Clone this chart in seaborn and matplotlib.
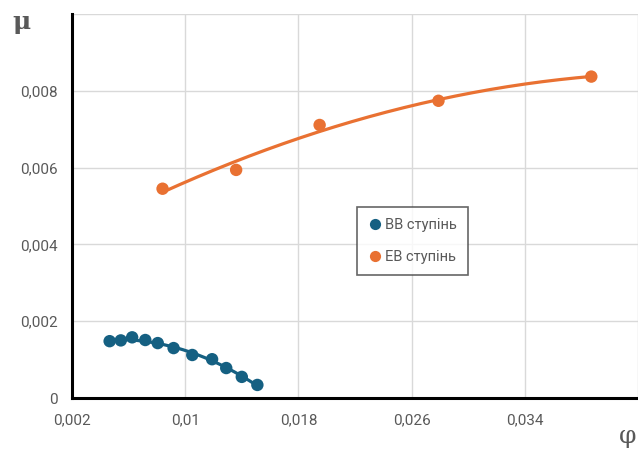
import numpy as np
import pandas as pd
import matplotlib
matplotlib.use("Agg")
import matplotlib.pyplot as plt
import seaborn as sns

# Data
vv_phi = [0.00466, 0.00545, 0.00625, 0.00718, 0.00806, 0.00918, 0.0105, 0.0119, 0.0129, 0.0140, 0.0151]
vv_mu = [0.00148, 0.00150, 0.00158, 0.00151, 0.00143, 0.00130, 0.00112, 0.00101, 0.00078, 0.00055, 0.00034]
ev_phi = [0.0084, 0.0136, 0.0195, 0.0279, 0.0387]
ev_mu = [0.00545, 0.00594, 0.00711, 0.00774, 0.00837]
series_names = ["ВВ ступінь", "ЕВ ступінь"]
colors = ["#156082", "#E97132"]
x_ticks = [0.002, 0.01, 0.018, 0.026, 0.034]
x_tick_labels = ["0,002", "0,01", "0,018", "0,026", "0,034"]
y_ticks = [0, 0.002, 0.004, 0.006, 0.008]
y_tick_labels = ["0", "0,002", "0,004", "0,006", "0,008"]

sns.set_style("white")
plt.rcParams['font.family'] = ['Roboto', 'DejaVu Sans']

df = pd.DataFrame({
    "phi": vv_phi + ev_phi,
    "mu": vv_mu + ev_mu,
    "series": [series_names[0]] * len(vv_phi) + [series_names[1]] * len(ev_phi),
})

# Polynomial (order 2) trendlines like Excel
trend_rows = []
for name, xs, ys in [(series_names[0], vv_phi, vv_mu), (series_names[1], ev_phi, ev_mu)]:
    c = np.polyfit(xs, ys, 2)
    xx = np.linspace(min(xs), max(xs), 200)
    for a, b in zip(xx, np.polyval(c, xx)):
        trend_rows.append((a, b, name))
trend = pd.DataFrame(trend_rows, columns=["phi", "mu", "series"])

fig = plt.figure(figsize=(6.38, 4.49), dpi=100)
ax = fig.add_axes([72 / 638, 1 - 398 / 449, 1 - 72 / 638, (398 - 14) / 449])

pal = dict(zip(series_names, colors))
sns.lineplot(data=trend, x="phi", y="mu", hue="series", palette=pal, ax=ax,
             legend=False, linewidth=2.3, sort=False)
sns.scatterplot(data=df, x="phi", y="mu", hue="series", palette=pal, ax=ax,
                s=80, edgecolor="none", zorder=3)

ax.set_xlim(0.002, 0.0417)
ax.set_ylim(0, 0.01)
ax.set_xticks(x_ticks + [0.042])
ax.set_xticklabels(x_tick_labels + [""])
ax.set_yticks(y_ticks + [0.01])
ax.set_yticklabels(y_tick_labels + [""])
ax.grid(True, color="#d9d9d9", linewidth=1)
ax.set_axisbelow(True)
ax.tick_params(axis="both", length=0, labelsize=11, labelcolor="#595959")
ax.tick_params(axis="x", pad=11)
ax.tick_params(axis="y", pad=10)
for s in ["top", "right"]:
    ax.spines[s].set_visible(False)
for s in ["left", "bottom"]:
    ax.spines[s].set_color("black")
    ax.spines[s].set_linewidth(2.2)
ax.set_xlabel("")
ax.set_ylabel("")

leg = ax.legend(loc="upper left", bbox_to_anchor=(357 / 638, 1 - 207 / 449),
                bbox_transform=fig.transFigure, frameon=True, fontsize=10.5,
                handletextpad=0.2, borderpad=0.75, labelspacing=1.25,
                borderaxespad=0, markerscale=0.9, fancybox=False, handlelength=1.0)
leg.get_frame().set_edgecolor("#404040")
leg.get_frame().set_linewidth(1.2)
for t in leg.get_texts():
    t.set_color("#595959")

fig.text(12 / 638, 1 - 22 / 449, "μ", fontsize=18, color="#595959",
         fontweight="bold", va="center", ha="left", family=["DejaVu Serif"])
fig.text(628 / 638, 1 - 437 / 449, "φ", fontsize=18, color="#595959",
         va="center", ha="center", family=["DejaVu Serif"])

fig.savefig("out.png", dpi=100)
